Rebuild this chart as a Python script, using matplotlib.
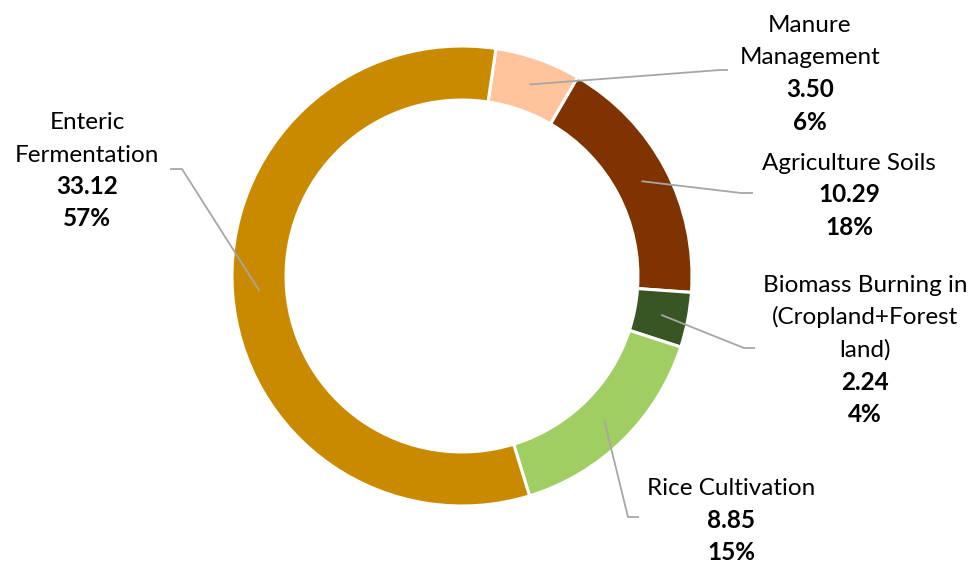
import matplotlib
matplotlib.use('Agg')
import matplotlib.pyplot as plt
import numpy as np

# ---- data ----
CATEGORIES = ['Manure\nManagement', 'Agriculture Soils',
              'Biomass Burning in\n(Cropland+Forest\nland)',
              'Rice Cultivation', 'Enteric\nFermentation']
VALUES = [3.50, 10.29, 2.24, 8.85, 33.12]
COLORS = ['#FFC49B', '#7F3300', '#375623', '#A0CE62', '#C98A00']

# ---- layout (figure pixels, y from top) ----
W, H = 973, 565
CX, CY = 462, 276          # donut centre
R_OUT = 230
RING = 0.235               # ring width as fraction of radius
FIRST_ANGLE = 8.5          # degrees clockwise from 12 o'clock

# label block: centre x, baseline of first line
LABEL_POS = [(810, 32), (849, 170), (865, 292), (731, 495), (87, 129)]
# leader elbow: (elbow point, end of short horizontal)
ELBOWS = [((720, 70), (728, 70)),
          ((741, 193), (753, 193)),
          ((744, 348), (755, 348)),
          ((628, 517), (639, 517)),
          ((182, 169), (170, 169))]
LINE_STEP = 32.5
FONT = 'Lato'
FS = 17.5

fig = plt.figure(figsize=(W / 100, H / 100), dpi=100)
ax = fig.add_axes([0, 0, 1, 1])

wedges, _ = ax.pie(VALUES, colors=COLORS, radius=R_OUT, center=(CX, H - CY),
                   startangle=90 - FIRST_ANGLE, counterclock=False,
                   wedgeprops=dict(width=R_OUT * RING, edgecolor='white',
                                   linewidth=2.2))
ax.set_xlim(0, W)
ax.set_ylim(0, H)
ax.set_aspect('equal')
ax.axis('off')

total = sum(VALUES)
r_mid = R_OUT * (1 - RING / 2)
for w, cat, val, (lx, ly), (elb, end) in zip(wedges, CATEGORIES, VALUES,
                                            LABEL_POS, ELBOWS):
    # leader line from middle of the ring
    ang = np.deg2rad((w.theta1 + w.theta2) / 2)
    sx, sy = CX + r_mid * np.cos(ang), (H - CY) + r_mid * np.sin(ang)
    ax.plot([sx, elb[0], end[0]], [sy, H - elb[1], H - end[1]],
            color='#A6A6A6', linewidth=1.3, solid_capstyle='butt', zorder=3)

    lines = cat.split('\n')
    y = ly
    for ln in lines:
        ax.text(lx, H - y, ln, ha='center', va='baseline', fontsize=FS,
                family=FONT, color='#000000')
        y += LINE_STEP
    for ln in [f'{val:.2f}', f'{val / total * 100:.0f}%']:
        ax.text(lx, H - y, ln, ha='center', va='baseline', fontsize=FS,
                family=FONT, fontweight='bold', color='#000000')
        y += LINE_STEP

fig.savefig('out.png', dpi=100, facecolor='white')
